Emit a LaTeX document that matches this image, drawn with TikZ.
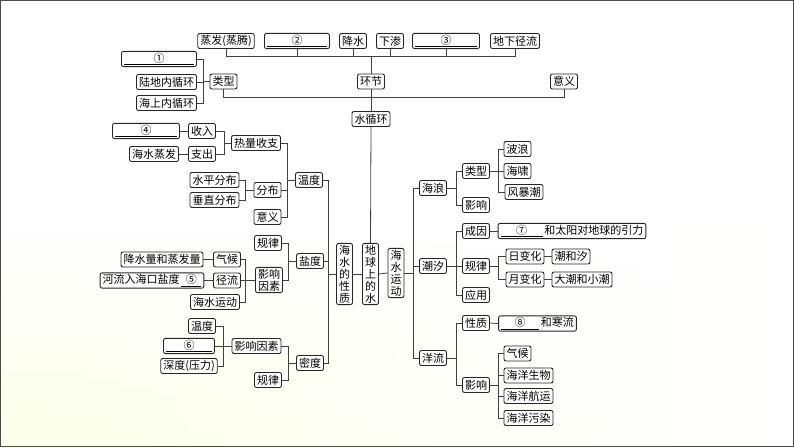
\documentclass[tikz,border=0pt]{standalone}
\usepackage{fontspec}
\newfontfamily\cjk{Noto Sans CJK SC}
\usetikzlibrary{positioning,fadings}

\newcommand{\blank}[2]{\underline{\makebox[#1]{#2}}}

\begin{document}
\begin{tikzpicture}[x=1pt,y=-1pt,
	box/.style={draw=black!85,rounded corners=2pt,fill=white,text=black,
		font=\cjk\fontsize{11}{12}\selectfont,inner xsep=2.5pt,inner ysep=1.5pt,
		minimum height=15pt,line width=0.9pt},
	link/.style={draw=black!75,line width=0.8pt}]
	\useasboundingbox (0,0) rectangle (794,447);
	\fill[white] (0,0) rectangle (794,447);
	\shade[left color=green!14!yellow!9!white,right color=white,path fading=north] (0,220) rectangle (794,447);
	\draw[black!70,line width=0.8pt] (0.5,0.5) rectangle (793.5,446.5);
	
	% 水循环
	\node[box] (zf) at (226,41) {蒸发(蒸腾)};
	\node[box] (b2) at (297,41) {\blank{60pt}{②}};
	\node[box] (js) at (353,41) {降水};
	\node[box] (xs) at (390,41) {下渗};
	\node[box] (b3) at (446,41) {\blank{62pt}{③}};
	\node[box] (dx) at (515,41) {地下径流};
	\node[box] (b1) at (159,59) {\blank{70pt}{①}};
	\node[box] (ld) at (166.5,82) {陆地内循环};
	\node[box] (hs) at (166.5,103) {海上内循环};
	\node[box] (lx) at (223.5,81.5) {类型};
	\node[box] (hj) at (371,81.5) {环节};
	\node[box] (yy) at (564,81.5) {意义};
	\node[box] (sxh) at (371,119) {水循环};
	
	% 中间一列
	\node[box,align=center] (dq) at (370.5,274) {地\\球\\上\\的\\水};
	\node[box,align=center] (hxz) at (344.5,274) {海\\水\\的\\性\\质};
	\node[box,align=center] (hyd) at (396,273) {海\\水\\运\\动};
	
	% 海水的性质
	\node[box] (wd) at (309,180) {温度};
	\node[box] (rl) at (256,143) {热量收支};
	\node[box] (fb) at (267.5,190) {分布};
	\node[box] (yi) at (267.5,217) {意义};
	\node[box] (sr) at (202,131) {收入};
	\node[box] (zc) at (202,154) {支出};
	\node[box] (b4) at (146,131) {\blank{62pt}{④}};
	\node[box] (hz) at (154,154) {海水蒸发};
	\node[box] (sp) at (214.5,180) {水平分布};
	\node[box] (cz) at (214.5,200) {垂直分布};
	
	\node[box] (yd) at (310,261) {盐度};
	\node[box] (gl1) at (268,243) {规律};
	\node[box,align=center] (yx1) at (269,280) {影响\\因素};
	\node[box] (qh1) at (227,259.5) {气候};
	\node[box] (jl) at (227,280.5) {径流};
	\node[box] (hy) at (215,302) {海水运动};
	\node[box] (jz) at (162,259.5) {降水量和蒸发量};
	\node[box] (hl) at (152,280.5) {河流入海口盐度\,\blank{20pt}{⑤}};
	
	\node[box] (md) at (310,363) {密度};
	\node[box] (yx2) at (256.5,346) {影响因素};
	\node[box] (gl2) at (268,380) {规律};
	\node[box] (wd2) at (202,326) {温度};
	\node[box] (b6) at (189,346) {\blank{46pt}{⑥}};
	\node[box] (sd) at (189,366) {深度(压力)};
	
	% 海水运动
	\node[box] (hlang) at (433,188) {海浪};
	\node[box] (cx) at (433,266) {潮汐};
	\node[box] (yl) at (433,358) {洋流};
	\node[box] (lx2) at (476,171) {类型};
	\node[box] (yx3) at (476,205) {影响};
	\node[box] (bl) at (517.5,149) {波浪};
	\node[box] (hx) at (517.5,171) {海啸};
	\node[box] (fbc) at (524,192) {风暴潮};
	\node[box] (cy) at (476,231) {成因};
	\node[box] (gl3) at (476,266) {规律};
	\node[box] (yy2) at (476,295) {应用};
	\node[box] (b7) at (572,231) {\blank{42pt}{⑦}\,和太阳对地球的引力};
	\node[box] (rbh) at (525,256.5) {日变化};
	\node[box] (ybh) at (525,279.5) {月变化};
	\node[box] (chx) at (571,256.5) {潮和汐};
	\node[box] (dc) at (582,279.5) {大潮和小潮};
	\node[box] (xz) at (476,323) {性质};
	\node[box] (yx4) at (476,385) {影响};
	\node[box] (b8) at (537.5,323.5) {\blank{38pt}{⑧}\,和寒流};
	\node[box] (qh2) at (517.5,353.5) {气候};
	\node[box] (hysw) at (528.5,375.5) {海洋生物};
	\node[box] (hyhy) at (528.5,396) {海洋航运};
	\node[box] (hywr) at (528.5,418) {海洋污染};
	
	% 连线
	\coordinate (hjb) at (371,56);
	\foreach \n in {zf,b2,js,xs,b3,dx}{
		\draw[link] (\n.south) |- (hjb);}
	\draw[link] (hjb) -- (hj.north);
	\draw[link] (lx.west) -- ++(-6,0) coordinate (lxb);
	\foreach \n in {b1,ld,hs}{
		\draw[link] (\n.east) -| (lxb);}
	\draw[link] (lx.south) -- ++(0,8) -| (yy.south);
	\draw[link] (hj.south) -- (sxh.north);
	\draw[link] (sxh.south) -- (dq.north);
	\draw[link] (hxz.east) -- (dq.west);
	\draw[link] (dq.east) -- (hyd.west);
	
	\draw[link] (hxz.west) -- ++(-8,0) coordinate (hxzb);
	\foreach \n in {wd,yd,md}{
		\draw[link] (\n.east) -| (hxzb);}
	\draw[link] (wd.west) -- ++(-8,0) coordinate (wdb);
	\foreach \n in {rl,fb,yi}{
		\draw[link] (\n.east) -| (wdb);}
	\draw[link] (rl.west) -- ++(-7,0) coordinate (rlb);
	\foreach \n in {sr,zc}{
		\draw[link] (\n.east) -| (rlb);}
	\draw[link] (b4.east) -- (sr.west);
	\draw[link] (hz.east) -- (zc.west);
	\draw[link] (fb.west) -- ++(-8,0) coordinate (fbb);
	\foreach \n in {sp,cz}{
		\draw[link] (\n.east) -| (fbb);}
	
	\draw[link] (yd.west) -- ++(-8,0) coordinate (ydb);
	\foreach \n in {gl1,yx1}{
		\draw[link] (\n.east) -| (ydb);}
	\draw[link] (yx1.west) -- ++(-10,0) coordinate (yx1b);
	\foreach \n in {qh1,jl,hy}{
		\draw[link] (\n.east) -| (yx1b);}
	\draw[link] (jz.east) -- (qh1.west);
	\draw[link] (hl.east) -- (jl.west);
	
	\draw[link] (md.west) -- ++(-8,0) coordinate (mdb);
	\foreach \n in {yx2,gl2}{
		\draw[link] (\n.east) -| (mdb);}
	\draw[link] (yx2.west) -- ++(-8,0) coordinate (yx2b);
	\foreach \n in {wd2,b6,sd}{
		\draw[link] (\n.east) -| (yx2b);}
	
	\draw[link] (hyd.east) -- ++(9,0) coordinate (hydb);
	\foreach \n in {hlang,cx,yl}{
		\draw[link] (\n.west) -| (hydb);}
	\draw[link] (hlang.east) -- ++(9,0) coordinate (hlb);
	\foreach \n in {lx2,yx3}{
		\draw[link] (\n.west) -| (hlb);}
	\draw[link] (lx2.east) -- ++(8,0) coordinate (lx2b);
	\foreach \n in {bl,hx,fbc}{
		\draw[link] (\n.west) -| (lx2b);}
	\draw[link] (cx.east) -- ++(9,0) coordinate (cxb);
	\foreach \n in {cy,gl3,yy2}{
		\draw[link] (\n.west) -| (cxb);}
	\draw[link] (cy.east) -- (b7.west);
	\draw[link] (gl3.east) -- ++(8,0) coordinate (gl3b);
	\foreach \n in {rbh,ybh}{
		\draw[link] (\n.west) -| (gl3b);}
	\draw[link] (rbh.east) -- (chx.west);
	\draw[link] (ybh.east) -- (dc.west);
	\draw[link] (yl.east) -- ++(9,0) coordinate (ylb);
	\foreach \n in {xz,yx4}{
		\draw[link] (\n.west) -| (ylb);}
	\draw[link] (xz.east) -- (b8.west);
	\draw[link] (yx4.east) -- ++(8,0) coordinate (yx4b);
	\foreach \n in {qh2,hysw,hyhy,hywr}{
		\draw[link] (\n.west) -| (yx4b);}
\end{tikzpicture}
\end{document}
